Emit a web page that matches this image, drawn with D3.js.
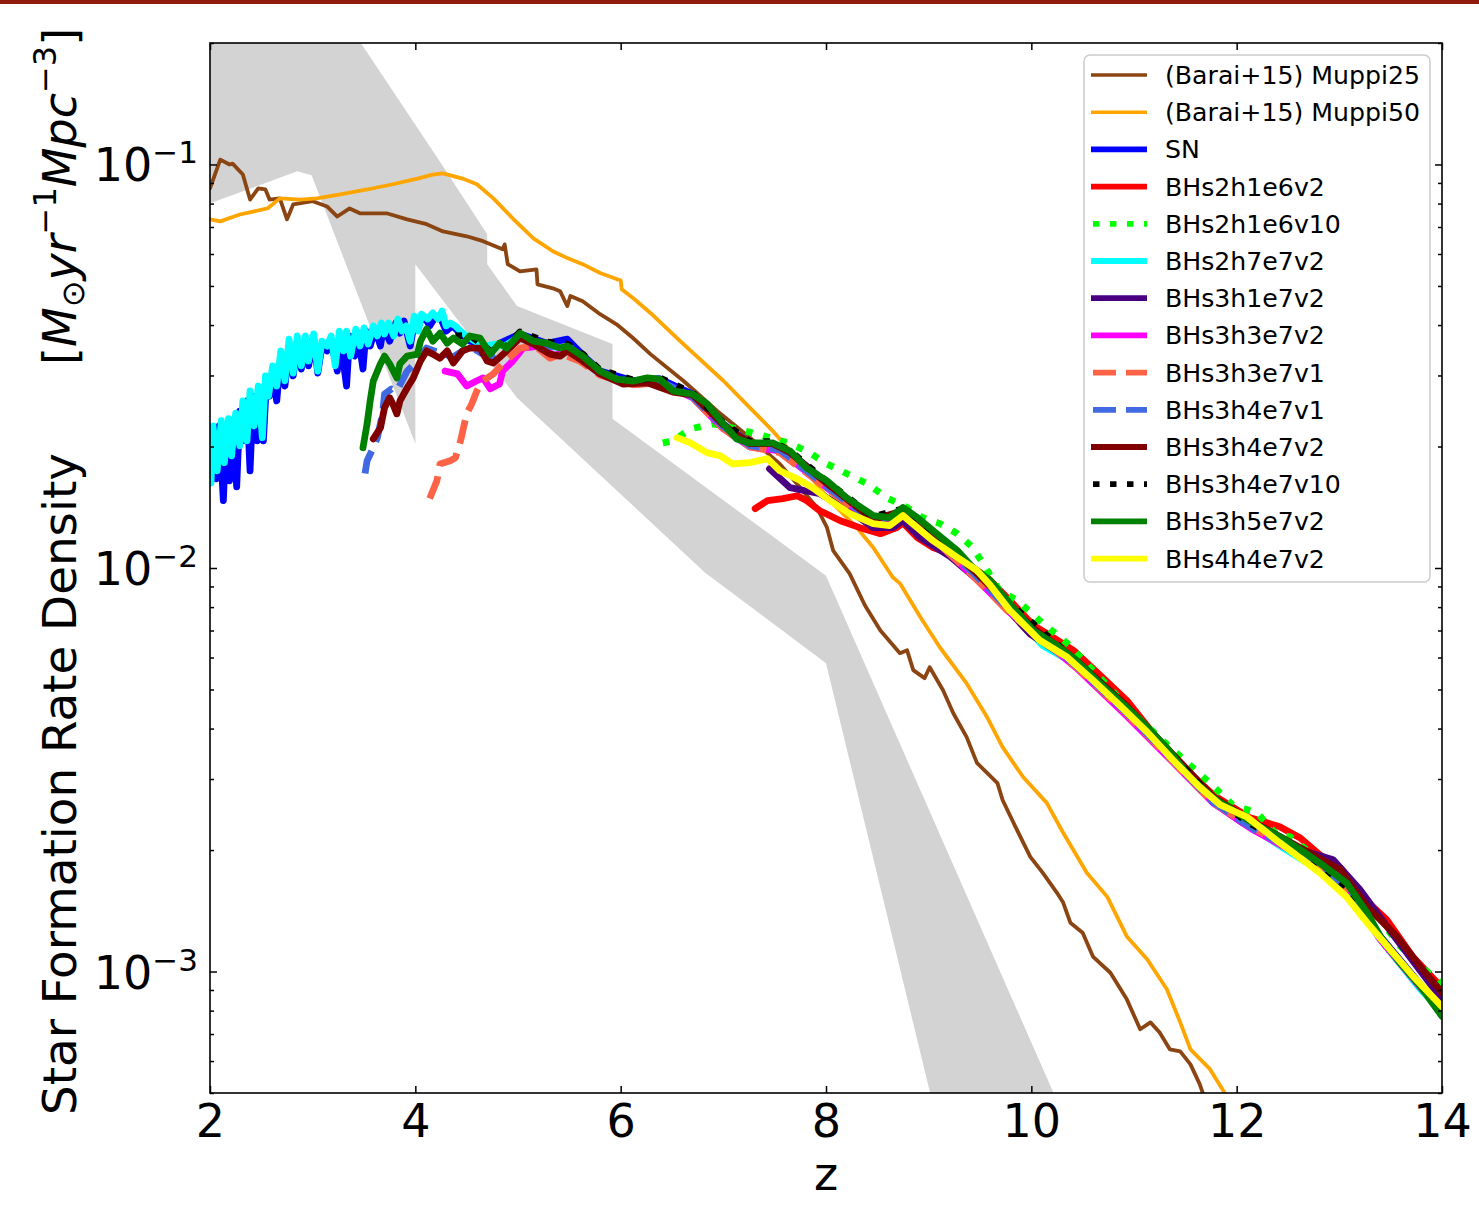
<!DOCTYPE html>
<html>
<head>
<meta charset="utf-8">
<script src="https://cdn.jsdelivr.net/npm/d3@7"></script>
<style>
  body { margin: 0; background: #ffffff; }
  svg text { font-family: "DejaVu Sans", sans-serif; fill: #000; }
</style>
</head>
<body>
<svg id="chart" width="1479" height="1211"></svg>
<script>
// ---- Data: each series is a list of [redshift z, log10(SFRD / Msun yr^-1 Mpc^-3)] ----

// Observational band (upper and lower envelopes)
const bandUpper = [[2.00,-0.45],[3.48,-0.703],[4.24,-0.993],[4.70,-1.173],[4.70,-1.247],[4.99,-1.351],[5.92,-1.445],[5.92,-1.630],[8.00,-2.019],[10.50,-3.465]];
const bandLower = [[2.00,-1.096],[2.85,-1.017],[2.99,-1.027],[4.00,-1.692],[4.00,-1.247],[4.99,-1.578],[6.82,-2.011],[8.00,-2.236],[9.20,-3.496]];

const muppi25 = [[2.00,-1.059],[2.10,-0.988],[2.19,-1.000],[2.22,-0.998],[2.32,-1.025],[2.39,-1.087],[2.47,-1.059],[2.54,-1.062],[2.58,-1.087],[2.68,-1.084],[2.75,-1.136],[2.81,-1.099],[3.00,-1.091],[3.14,-1.104],[3.24,-1.129],[3.36,-1.109],[3.46,-1.121],[3.72,-1.121],[3.92,-1.136],[4.11,-1.148],[4.27,-1.166],[4.50,-1.178],[4.66,-1.190],[4.85,-1.210],[4.87,-1.198],[4.90,-1.247],[5.02,-1.265],[5.18,-1.260],[5.19,-1.297],[5.34,-1.307],[5.41,-1.314],[5.48,-1.351],[5.51,-1.326],[5.63,-1.339],[5.80,-1.371],[5.96,-1.396],[6.12,-1.430],[6.29,-1.470],[6.61,-1.536],[6.94,-1.611],[7.26,-1.677],[7.55,-1.742],[7.75,-1.801],[7.91,-1.850],[8.01,-1.900],[8.07,-1.957],[8.23,-2.014],[8.38,-2.093],[8.53,-2.155],[8.72,-2.211],[8.79,-2.204],[8.85,-2.253],[8.96,-2.273],[9.01,-2.246],[9.14,-2.303],[9.24,-2.360],[9.37,-2.419],[9.47,-2.483],[9.67,-2.533],[9.72,-2.575],[9.86,-2.649],[9.99,-2.716],[10.11,-2.755],[10.25,-2.805],[10.31,-2.829],[10.38,-2.879],[10.50,-2.904],[10.60,-2.963],[10.77,-3.003],[10.93,-3.069],[11.06,-3.143],[11.16,-3.126],[11.25,-3.151],[11.35,-3.193],[11.45,-3.198],[11.55,-3.230],[11.64,-3.279],[11.69,-3.316]];

const muppi50 = [[2.00,-1.136],[2.10,-1.141],[2.29,-1.124],[2.56,-1.109],[2.68,-1.084],[2.88,-1.087],[3.04,-1.084],[3.27,-1.074],[3.53,-1.062],[3.78,-1.049],[4.02,-1.035],[4.17,-1.025],[4.27,-1.022],[4.46,-1.035],[4.60,-1.049],[4.76,-1.084],[4.95,-1.134],[5.15,-1.183],[5.34,-1.215],[5.48,-1.232],[5.63,-1.247],[5.80,-1.269],[5.96,-1.284],[6.00,-1.287],[6.01,-1.309],[6.12,-1.331],[6.29,-1.368],[6.58,-1.438],[7.00,-1.536],[7.26,-1.603],[7.48,-1.660],[7.65,-1.710],[7.84,-1.771],[8.04,-1.833],[8.30,-1.900],[8.46,-1.949],[8.65,-2.023],[8.72,-2.038],[8.92,-2.122],[9.11,-2.197],[9.37,-2.286],[9.57,-2.370],[9.72,-2.444],[9.92,-2.518],[10.15,-2.582],[10.31,-2.656],[10.54,-2.755],[10.74,-2.815],[10.93,-2.913],[11.13,-2.970],[11.32,-3.044],[11.45,-3.126],[11.55,-3.193],[11.74,-3.242],[11.92,-3.316]];

const sn = [[2.01,-1.759],[2.03,-1.685],[2.06,-1.779],[2.09,-1.648],[2.13,-1.833],[2.16,-1.648],[2.19,-1.784],[2.22,-1.635],[2.26,-1.799],[2.29,-1.611],[2.33,-1.685],[2.36,-1.586],[2.39,-1.759],[2.42,-1.574],[2.46,-1.685],[2.49,-1.561],[2.52,-1.685],[2.55,-1.536],[2.58,-1.574],[2.61,-1.512],[2.65,-1.586],[2.69,-1.475],[2.73,-1.549],[2.77,-1.450],[2.81,-1.524],[2.85,-1.438],[2.89,-1.507],[2.93,-1.438],[2.96,-1.499],[3.01,-1.433],[3.05,-1.517],[3.09,-1.450],[3.14,-1.462],[3.18,-1.438],[3.24,-1.512],[3.27,-1.433],[3.33,-1.549],[3.36,-1.425],[3.41,-1.475],[3.44,-1.418],[3.49,-1.507],[3.52,-1.413],[3.56,-1.450],[3.61,-1.408],[3.66,-1.450],[3.69,-1.403],[3.75,-1.438],[3.81,-1.393],[3.85,-1.418],[3.89,-1.388],[3.95,-1.450],[3.99,-1.393],[4.05,-1.388],[4.09,-1.378],[4.14,-1.400],[4.20,-1.376],[4.25,-1.383],[4.30,-1.413],[4.36,-1.400],[4.44,-1.418],[4.53,-1.438],[4.63,-1.443],[4.73,-1.462],[4.82,-1.443],[5.02,-1.420],[5.28,-1.443],[5.48,-1.433],[5.63,-1.472],[5.80,-1.512],[6.12,-1.536],[6.38,-1.531],[6.70,-1.569],[7.00,-1.643],[7.26,-1.692],[7.48,-1.692],[7.65,-1.714],[8.01,-1.789],[8.46,-1.878],[8.62,-1.883],[8.75,-1.858],[9.04,-1.915],[9.43,-2.006],[9.79,-2.098],[10.11,-2.179],[10.44,-2.234],[10.93,-2.352],[11.32,-2.456],[11.77,-2.575],[12.16,-2.639],[12.62,-2.703],[13.07,-2.792],[13.40,-2.913],[13.79,-3.032],[14.00,-3.094]];

const bhs2h1e6v2 = [[7.31,-1.853],[7.43,-1.833],[7.58,-1.828],[7.72,-1.821],[7.81,-1.833],[7.94,-1.858],[8.14,-1.883],[8.33,-1.900],[8.53,-1.915],[8.69,-1.900],[8.75,-1.888],[8.89,-1.925],[9.04,-1.949],[9.21,-1.964],[9.37,-1.989],[9.57,-2.023],[9.79,-2.080],[10.02,-2.142],[10.15,-2.162],[10.41,-2.204],[10.67,-2.266],[10.93,-2.328],[11.20,-2.414],[11.48,-2.493],[11.77,-2.562],[12.13,-2.619],[12.42,-2.641],[12.62,-2.669],[12.81,-2.711],[13.01,-2.743],[13.20,-2.810],[13.46,-2.871],[13.72,-2.965],[14.00,-3.040]];

const bhs2h1e6v10 = [[6.41,-1.690],[6.51,-1.685],[6.68,-1.655],[6.90,-1.643],[7.09,-1.653],[7.36,-1.670],[7.63,-1.690],[7.81,-1.710],[8.01,-1.742],[8.20,-1.766],[8.40,-1.791],[8.59,-1.826],[8.79,-1.850],[8.94,-1.875],[9.11,-1.890],[9.28,-1.915],[9.43,-1.949],[9.57,-2.006],[9.69,-2.056],[9.86,-2.080],[10.08,-2.130],[10.35,-2.187],[10.60,-2.253],[10.99,-2.360],[11.38,-2.451],[11.74,-2.533],[11.96,-2.587],[12.20,-2.607],[12.39,-2.661],[12.52,-2.666],[12.68,-2.698],[13.01,-2.773],[13.20,-2.834],[13.36,-2.854],[13.56,-2.928],[13.72,-2.970],[14.00,-3.032]];

const bhs2h7e7v2 = [[2.01,-1.789],[2.03,-1.648],[2.07,-1.759],[2.11,-1.635],[2.14,-1.739],[2.18,-1.630],[2.21,-1.722],[2.25,-1.616],[2.29,-1.697],[2.32,-1.586],[2.36,-1.685],[2.39,-1.561],[2.43,-1.648],[2.47,-1.549],[2.51,-1.677],[2.54,-1.524],[2.57,-1.574],[2.61,-1.499],[2.65,-1.549],[2.69,-1.462],[2.73,-1.536],[2.77,-1.433],[2.81,-1.517],[2.85,-1.425],[2.89,-1.499],[2.93,-1.425],[2.96,-1.487],[3.01,-1.420],[3.05,-1.512],[3.09,-1.438],[3.14,-1.450],[3.18,-1.425],[3.22,-1.499],[3.26,-1.413],[3.30,-1.462],[3.33,-1.413],[3.37,-1.475],[3.42,-1.408],[3.46,-1.450],[3.50,-1.405],[3.54,-1.445],[3.59,-1.400],[3.63,-1.425],[3.67,-1.393],[3.70,-1.420],[3.74,-1.393],[3.79,-1.425],[3.83,-1.383],[3.87,-1.413],[3.91,-1.400],[3.95,-1.438],[3.99,-1.376],[4.03,-1.413],[4.06,-1.371],[4.12,-1.383],[4.17,-1.368],[4.22,-1.383],[4.26,-1.363],[4.30,-1.400],[4.34,-1.393],[4.39,-1.400],[4.44,-1.413],[4.50,-1.425],[4.58,-1.438],[4.68,-1.450],[4.78,-1.445],[4.87,-1.450],[5.02,-1.425],[5.28,-1.450],[5.48,-1.455],[5.63,-1.480],[5.80,-1.519],[6.12,-1.544],[6.38,-1.539],[6.70,-1.576],[7.00,-1.653],[7.26,-1.700],[7.48,-1.700],[7.65,-1.727],[8.01,-1.801],[8.46,-1.888],[8.62,-1.892],[8.75,-1.868],[9.04,-1.925],[9.43,-2.014],[9.79,-2.104],[10.11,-2.192],[10.44,-2.240],[10.93,-2.356],[11.32,-2.462],[11.77,-2.578],[12.16,-2.645],[12.49,-2.700],[12.81,-2.750],[13.07,-2.802],[13.40,-2.921],[13.79,-3.044],[14.00,-3.099]];

const bhs3h1e7v2 = [[7.45,-1.754],[7.65,-1.801],[7.94,-1.816],[8.23,-1.858],[8.46,-1.900],[8.65,-1.900],[8.75,-1.883],[8.92,-1.925],[9.21,-1.972],[9.60,-2.056],[9.99,-2.164],[10.44,-2.239],[10.93,-2.357],[11.32,-2.461],[11.77,-2.580],[12.06,-2.632],[12.62,-2.698],[12.94,-2.723],[13.20,-2.797],[13.56,-2.921],[14.00,-3.069]];

const bhs3h3e7v2 = [[4.29,-1.512],[4.41,-1.519],[4.50,-1.549],[4.60,-1.536],[4.66,-1.529],[4.73,-1.556],[4.82,-1.544],[4.85,-1.512],[4.95,-1.487],[5.05,-1.455],[5.21,-1.450],[5.36,-1.475],[5.48,-1.455],[5.63,-1.482],[5.80,-1.519],[6.12,-1.544],[6.38,-1.541],[6.70,-1.578],[7.00,-1.655],[7.26,-1.700],[7.55,-1.710],[8.01,-1.801],[8.46,-1.888],[8.75,-1.868],[9.04,-1.925],[9.43,-2.019],[9.79,-2.110],[10.44,-2.248],[10.93,-2.367],[11.32,-2.466],[11.77,-2.582],[12.16,-2.649],[12.62,-2.713],[13.07,-2.797],[13.40,-2.921],[13.79,-3.040],[14.00,-3.094]];

const bhs3h3e7v1 = [[4.14,-1.828],[4.21,-1.784],[4.24,-1.742],[4.34,-1.734],[4.39,-1.727],[4.44,-1.685],[4.50,-1.618],[4.55,-1.593],[4.60,-1.561],[4.66,-1.536],[4.76,-1.519],[4.85,-1.494],[5.02,-1.455],[5.17,-1.450],[5.31,-1.480],[5.43,-1.470],[5.60,-1.487],[5.80,-1.522],[6.12,-1.546],[6.38,-1.541],[6.70,-1.578],[7.00,-1.655],[7.26,-1.700],[7.55,-1.714],[8.01,-1.803],[8.46,-1.890],[8.75,-1.868],[9.04,-1.927],[9.43,-2.019],[9.79,-2.112],[10.44,-2.246],[10.93,-2.362],[11.32,-2.464],[11.77,-2.582],[12.16,-2.644],[12.62,-2.711],[13.07,-2.797],[13.40,-2.916],[13.79,-3.037],[14.00,-3.089]];

const bhs3h4e7v1 = [[3.51,-1.766],[3.53,-1.734],[3.59,-1.702],[3.63,-1.677],[3.68,-1.618],[3.70,-1.569],[3.77,-1.556],[3.82,-1.561],[3.92,-1.512],[4.02,-1.487],[4.11,-1.455],[4.24,-1.467],[4.37,-1.477],[4.53,-1.450],[4.73,-1.482],[4.89,-1.457],[5.02,-1.428],[5.28,-1.452],[5.48,-1.447],[5.63,-1.480],[5.80,-1.517],[6.12,-1.541],[6.38,-1.536],[6.70,-1.576],[7.00,-1.650],[7.26,-1.697],[7.55,-1.707],[8.01,-1.799],[8.46,-1.885],[8.75,-1.865],[9.04,-1.922],[9.43,-2.011],[9.79,-2.105],[10.44,-2.243],[10.93,-2.360],[11.32,-2.461],[11.77,-2.580],[12.16,-2.646],[12.62,-2.708],[13.07,-2.795],[13.40,-2.916],[13.79,-3.037],[14.00,-3.094]];

const bhs3h4e7v2 = [[3.59,-1.680],[3.66,-1.653],[3.70,-1.603],[3.75,-1.578],[3.78,-1.593],[3.82,-1.618],[3.85,-1.586],[3.92,-1.554],[3.98,-1.529],[4.05,-1.487],[4.11,-1.462],[4.17,-1.470],[4.24,-1.480],[4.31,-1.462],[4.37,-1.492],[4.46,-1.462],[4.53,-1.455],[4.63,-1.455],[4.70,-1.487],[4.76,-1.492],[4.89,-1.462],[5.02,-1.430],[5.15,-1.445],[5.31,-1.470],[5.41,-1.475],[5.48,-1.462],[5.63,-1.487],[5.80,-1.519],[6.02,-1.544],[6.26,-1.541],[6.51,-1.564],[6.70,-1.571],[7.00,-1.645],[7.26,-1.692],[7.48,-1.692],[7.65,-1.714],[8.01,-1.791],[8.46,-1.880],[8.75,-1.858],[9.04,-1.915],[9.43,-2.004],[9.79,-2.093],[10.02,-2.150],[10.44,-2.229],[10.93,-2.342],[11.32,-2.446],[11.77,-2.567],[12.16,-2.629],[12.62,-2.693],[13.01,-2.748],[13.27,-2.839],[13.56,-2.913],[13.79,-2.988],[14.00,-3.052]];

const bhs3h4e7v10 = [[4.39,-1.425],[4.53,-1.423],[4.73,-1.462],[4.89,-1.450],[5.02,-1.415],[5.28,-1.440],[5.48,-1.445],[5.63,-1.470],[5.80,-1.509],[6.12,-1.534],[6.38,-1.529],[6.70,-1.566],[7.00,-1.640],[7.26,-1.687],[7.48,-1.687],[7.65,-1.710],[8.01,-1.786],[8.46,-1.873],[8.75,-1.853],[9.04,-1.910],[9.43,-1.999],[9.79,-2.088],[10.44,-2.231],[10.93,-2.347],[11.32,-2.451],[11.77,-2.572],[12.16,-2.637],[12.62,-2.701],[13.07,-2.790],[13.40,-2.916],[13.79,-3.035],[14.00,-3.089]];

const bhs3h5e7v2 = [[3.49,-1.702],[3.53,-1.643],[3.56,-1.586],[3.59,-1.537],[3.66,-1.494],[3.70,-1.475],[3.75,-1.494],[3.82,-1.529],[3.85,-1.494],[3.92,-1.475],[4.02,-1.470],[4.05,-1.438],[4.11,-1.408],[4.17,-1.438],[4.24,-1.418],[4.31,-1.443],[4.37,-1.430],[4.46,-1.445],[4.53,-1.425],[4.63,-1.430],[4.73,-1.470],[4.82,-1.443],[4.89,-1.455],[5.02,-1.418],[5.15,-1.438],[5.28,-1.443],[5.41,-1.455],[5.48,-1.450],[5.63,-1.475],[5.80,-1.512],[5.96,-1.532],[6.12,-1.537],[6.26,-1.529],[6.38,-1.532],[6.51,-1.561],[6.70,-1.569],[6.84,-1.593],[7.00,-1.643],[7.13,-1.680],[7.26,-1.690],[7.48,-1.690],[7.65,-1.710],[7.81,-1.752],[8.01,-1.784],[8.20,-1.826],[8.46,-1.870],[8.62,-1.875],[8.75,-1.850],[8.89,-1.875],[9.04,-1.907],[9.28,-1.957],[9.43,-1.999],[9.60,-2.031],[9.79,-2.088],[10.02,-2.155],[10.25,-2.192],[10.44,-2.229],[10.67,-2.286],[10.93,-2.345],[11.13,-2.394],[11.32,-2.446],[11.55,-2.520],[11.77,-2.570],[11.96,-2.600],[12.16,-2.632],[12.42,-2.666],[12.62,-2.698],[12.81,-2.731],[13.07,-2.780],[13.27,-2.854],[13.40,-2.913],[13.59,-2.978],[13.79,-3.037],[14.00,-3.111]];

const bhs4h4e7v2 = [[6.55,-1.677],[6.68,-1.690],[6.84,-1.714],[6.97,-1.722],[7.09,-1.742],[7.26,-1.739],[7.43,-1.729],[7.55,-1.759],[7.72,-1.779],[7.87,-1.801],[8.04,-1.833],[8.23,-1.865],[8.46,-1.890],[8.62,-1.895],[8.75,-1.870],[8.89,-1.900],[9.04,-1.932],[9.28,-1.974],[9.47,-2.006],[9.60,-2.043],[9.79,-2.105],[10.08,-2.179],[10.35,-2.221],[10.60,-2.278],[10.86,-2.340],[11.13,-2.407],[11.38,-2.476],[11.64,-2.543],[11.84,-2.587],[12.10,-2.617],[12.42,-2.681],[12.81,-2.755],[13.07,-2.815],[13.27,-2.879],[13.52,-2.953],[13.72,-3.012],[14.00,-3.087]];

// Series labels (legend order = drawing order)
const seriesLabels = ["(Barai+15) Muppi25","(Barai+15) Muppi50","SN","BHs2h1e6v2","BHs2h1e6v10","BHs2h7e7v2","BHs3h1e7v2","BHs3h3e7v2","BHs3h3e7v1","BHs3h4e7v1","BHs3h4e7v2","BHs3h4e7v10","BHs3h5e7v2","BHs4h4e7v2"];
const seriesData = [muppi25, muppi50, sn, bhs2h1e6v2, bhs2h1e6v10, bhs2h7e7v2, bhs3h1e7v2, bhs3h3e7v2, bhs3h3e7v1, bhs3h4e7v1, bhs3h4e7v2, bhs3h4e7v10, bhs3h5e7v2, bhs4h4e7v2];

// Axis ticks
const xTicks = [2, 4, 6, 8, 10, 12, 14];
const yMajorExponents = [-3, -2, -1];

// ---- Styles ----
const seriesColors = ["#8b4513","#ffa500","#0000ff","#ff0000","#00ff00","#00ffff","#4b0082","#ff00ff","#ff6347","#4169e1","#800000","#000000","#008000","#ffff00"];
const seriesStyle = ["solid","solid","solid","solid","dotted","solid","solid","solid","dashed","dashed","solid","dotted","solid","solid"];
const thinSeries = new Set([0, 1]);

// ---- Layout ----
const W = 1479, H = 1211;
const plot = { left: 210, right: 1442, top: 43, bottom: 1093 };
const FONT = 46;

const svg = d3.select("#chart");

// thin dark-red strip across the very top of the page
svg.append("rect").attr("x", 0).attr("y", 0).attr("width", W).attr("height", 4).attr("fill", "#901a0b");

const x = d3.scaleLinear().domain([2, 14]).range([plot.left, plot.right]);
const y = d3.scaleLog().domain([5e-4, 0.2]).range([plot.bottom, plot.top]);

svg.append("defs").append("clipPath").attr("id", "plotClip")
  .append("rect")
  .attr("x", plot.left).attr("y", plot.top)
  .attr("width", plot.right - plot.left).attr("height", plot.bottom - plot.top);

const layer = svg.append("g").attr("clip-path", "url(#plotClip)");

const line = d3.line().x(d => x(d[0])).y(d => y(Math.pow(10, d[1])));

// shaded observational band
const bandPolygon = bandUpper.concat(bandLower.slice().reverse());
layer.append("path")
  .attr("d", line(bandPolygon) + "Z")
  .attr("fill", "#d3d3d3")
  .attr("stroke", "none");

function dashFor(style, w) {
  if (style === "dotted") return `${(w * 1.0).toFixed(1)},${(w * 1.6).toFixed(1)}`;
  if (style === "dashed") return `${(w * 3.5).toFixed(1)},${(w * 1.5).toFixed(1)}`;
  return null;
}

seriesData.forEach((data, i) => {
  const w = thinSeries.has(i) ? 3.8 : 6.8;
  const st = seriesStyle[i];
  layer.append("path")
    .attr("d", line(data))
    .attr("fill", "none")
    .attr("stroke", seriesColors[i])
    .attr("stroke-width", w)
    .attr("stroke-linejoin", "round")
    .attr("stroke-linecap", st === "solid" ? "round" : "butt")
    .attr("stroke-dasharray", dashFor(st, w));
});

// ---- Axes (ticks pointing inward on all four sides) ----
const tickStyle = g => {
  g.select(".domain").remove();
  g.selectAll(".tick line").attr("stroke", "#000").attr("stroke-width", 1.5);
};

const yMajor = yMajorExponents.map(e => Math.pow(10, e));
const yMinor = [];
for (let e = -4; e <= -1; e++) {
  for (let m = 2; m <= 9; m++) {
    const v = m * Math.pow(10, e);
    if (v >= 5e-4 && v <= 0.2) yMinor.push(v);
  }
}

svg.append("g").attr("transform", `translate(0,${plot.bottom})`)
  .call(d3.axisBottom(x).tickValues(xTicks).tickSize(-7).tickPadding(11).tickFormat(d3.format("d")))
  .call(tickStyle)
  .call(g => g.selectAll(".tick text").attr("font-size", FONT).attr("font-family", "DejaVu Sans").attr("fill", "#000"));

svg.append("g").attr("transform", `translate(0,${plot.top})`)
  .call(d3.axisTop(x).tickValues(xTicks).tickSize(-7).tickFormat(""))
  .call(tickStyle);

svg.append("g").attr("transform", `translate(${plot.left},0)`)
  .call(d3.axisLeft(y).tickValues(yMajor).tickSize(-7).tickFormat(""))
  .call(tickStyle);
svg.append("g").attr("transform", `translate(${plot.left},0)`)
  .call(d3.axisLeft(y).tickValues(yMinor).tickSize(-4).tickFormat(""))
  .call(tickStyle);
svg.append("g").attr("transform", `translate(${plot.right},0)`)
  .call(d3.axisRight(y).tickValues(yMajor).tickSize(-7).tickFormat(""))
  .call(tickStyle);
svg.append("g").attr("transform", `translate(${plot.right},0)`)
  .call(d3.axisRight(y).tickValues(yMinor).tickSize(-4).tickFormat(""))
  .call(tickStyle);

// y tick labels as 10^n
yMajorExponents.forEach(e => {
  const t = svg.append("text")
    .attr("x", plot.left - 12)
    .attr("y", y(Math.pow(10, e)) + 17)
    .attr("text-anchor", "end")
    .attr("font-size", FONT);
  t.append("tspan").text("10");
  t.append("tspan").attr("font-size", 31).attr("dy", -18).text("\u2212" + Math.abs(e));
});

// frame
svg.append("rect")
  .attr("x", plot.left).attr("y", plot.top)
  .attr("width", plot.right - plot.left).attr("height", plot.bottom - plot.top)
  .attr("fill", "none").attr("stroke", "#000").attr("stroke-width", 1.6);

// axis titles
svg.append("text").attr("x", (plot.left + plot.right) / 2).attr("y", 1190)
  .attr("text-anchor", "middle").attr("font-size", FONT).text("z");

const yTitle = svg.append("g").attr("transform", "translate(76,1115) rotate(-90)");
yTitle.append("text").attr("x", 0).attr("y", 0).attr("font-size", 46.8).text("Star Formation Rate Density");
const unit = yTitle.append("text").attr("x", 750).attr("y", 0).attr("font-size", FONT);
unit.append("tspan").text("[");
unit.append("tspan").attr("font-style", "italic").text("M");
unit.append("tspan").attr("font-size", 32).attr("dy", 8).text("\u2299");
unit.append("tspan").attr("font-style", "italic").attr("dy", -8).text("yr");
unit.append("tspan").attr("font-size", 32).attr("dy", -20).text("\u22121");
unit.append("tspan").attr("font-style", "italic").attr("dy", 20).text("Mpc");
unit.append("tspan").attr("font-size", 32).attr("dy", -20).text("\u22123");
unit.append("tspan").attr("dy", 20).text("]");

// ---- Legend ----
const legend = svg.append("g");
legend.append("rect")
  .attr("x", 1084).attr("y", 55).attr("width", 346).attr("height", 527).attr("rx", 6)
  .attr("fill", "#fff").attr("fill-opacity", 0.8)
  .attr("stroke", "#cccccc").attr("stroke-width", 1.5);

seriesLabels.forEach((label, i) => {
  const cy = 75 + i * 37.2;
  const w = thinSeries.has(i) ? 3.4 : 5.8;
  const st = seriesStyle[i];
  legend.append("line")
    .attr("x1", 1091).attr("x2", 1147).attr("y1", cy).attr("y2", cy)
    .attr("stroke", seriesColors[i]).attr("stroke-width", w)
    .attr("stroke-linecap", "butt")
    .attr("stroke-dasharray", st === "dotted" ? "6.5,10.5" : st === "dashed" ? "23,10" : null)
    .attr("stroke-dashoffset", st === "solid" ? null : -2);
  legend.append("text").attr("x", 1165).attr("y", cy + 9).attr("font-size", 25.2).text(label);
});
</script>
</body>
</html>
